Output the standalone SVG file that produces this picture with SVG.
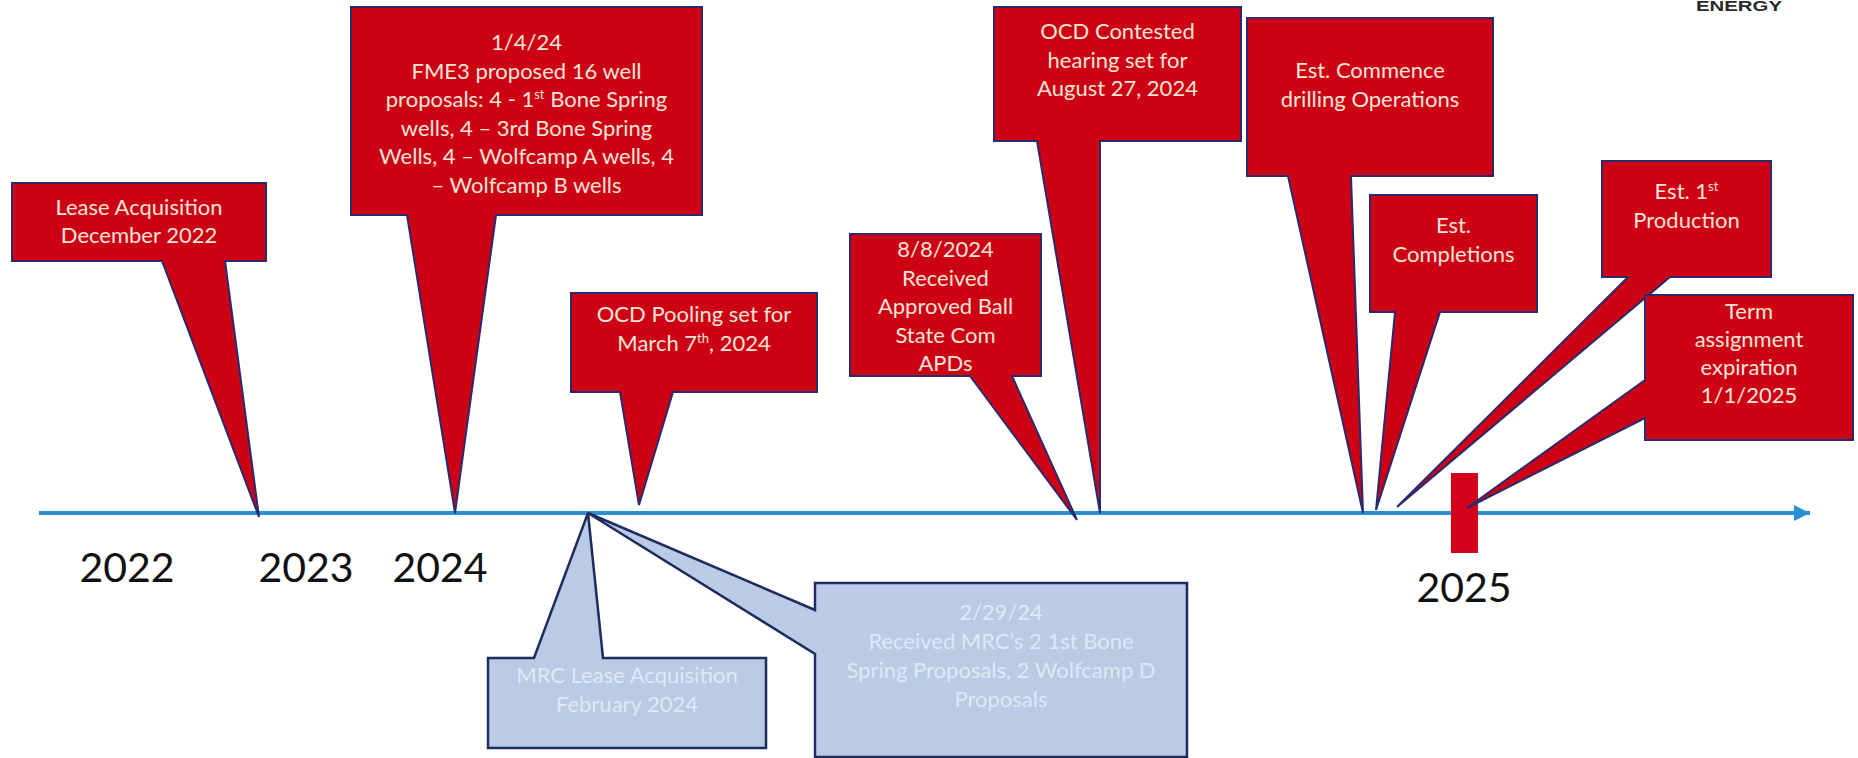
<svg xmlns="http://www.w3.org/2000/svg" width="1858" height="758" viewBox="0 0 1858 758">
<defs>
<style>
.red{fill:#cc0214;stroke:#2b2a6e;stroke-width:2;stroke-linejoin:miter}
.blue{fill:#b9cbe5;stroke:#1f2d5e;stroke-width:2.5;stroke-linejoin:miter}
.rt{font-family:Lato,"Liberation Sans",sans-serif;font-size:22px;fill:#f6e4d8;text-anchor:middle}
.bt{font-family:Lato,"Liberation Sans",sans-serif;font-size:22px;fill:#dfe8f4;text-anchor:middle}
.yr{font-family:Lato,"Liberation Sans",sans-serif;font-size:41px;fill:#111;text-anchor:middle}
.sup{font-size:13px}
</style>
<marker id="arrow" viewBox="0 0 10 10" refX="10" refY="5" markerWidth="4.5" markerHeight="4" markerUnits="strokeWidth" orient="auto">
<path d="M0,0 L10,5 L0,10 Z" fill="#2b8fd6"/>
</marker>
</defs>
<rect width="1858" height="758" fill="#ffffff"/>

<text x="1696" y="11" font-family="'Liberation Sans',Arial,sans-serif" font-weight="bold" font-size="15" fill="#2a2a2a" textLength="86" lengthAdjust="spacingAndGlyphs">ENERGY</text>

<g id="connectors">
<line x1="39" y1="513" x2="1810" y2="513" stroke="#2b8fd6" stroke-width="4" marker-end="url(#arrow)"/>
</g>

<g id="marker-2025">
<rect x="1451" y="473" width="27" height="80" fill="#d4001a"/>
</g>

<g id="years">
<text class="yr" x="127" y="582">2022</text>
<text class="yr" x="306" y="582">2023</text>
<text class="yr" x="440" y="582">2024</text>
<text class="yr" x="1464" y="602">2025</text>
</g>

<g id="lease-acquisition">
<path class="red" d="M12,183 H266 V261 H225 L259,517 L162,261 H12 Z"/>
<text class="rt" x="139" y="215">Lease Acquisition</text>
<text class="rt" x="139" y="243">December 2022</text>
</g>

<g id="fme3-proposals">
<path class="red" d="M351,7 H702 V215 H496 L455,513 L407,215 H351 Z"/>
<text class="rt" x="526.5" y="50">1/4/24</text>
<text class="rt" x="526.5" y="78.5">FME3 proposed 16 well</text>
<text class="rt" x="526.5" y="107">proposals: 4 - 1<tspan class="sup" baseline-shift="super">st</tspan> Bone Spring</text>
<text class="rt" x="526.5" y="135.5">wells, 4 – 3rd Bone Spring</text>
<text class="rt" x="526.5" y="164">Wells, 4 – Wolfcamp A wells, 4</text>
<text class="rt" x="526.5" y="192.5">– Wolfcamp B wells</text>
</g>

<g id="ocd-pooling">
<path class="red" d="M571,293 H817 V392 H673 L639,505 L620,392 H571 Z"/>
<text class="rt" x="694" y="322">OCD Pooling set for</text>
<text class="rt" x="694" y="351">March 7<tspan class="sup" baseline-shift="super">th</tspan>, 2024</text>
</g>

<g id="approved-apds">
<path class="red" d="M850,234 H1041 V376 H1012 L1077,520 L970,376 H850 Z"/>
<text class="rt" x="945.5" y="257">8/8/2024</text>
<text class="rt" x="945.5" y="285.5">Received</text>
<text class="rt" x="945.5" y="314">Approved Ball</text>
<text class="rt" x="945.5" y="342.5">State Com</text>
<text class="rt" x="945.5" y="371">APDs</text>
</g>

<g id="ocd-contested">
<path class="red" d="M994,7 H1241 V141 H1100 L1100,513 L1037,141 H994 Z"/>
<text class="rt" x="1117.5" y="39">OCD Contested</text>
<text class="rt" x="1117.5" y="67.5">hearing set for</text>
<text class="rt" x="1117.5" y="96">August 27, 2024</text>
</g>

<g id="est-commence">
<path class="red" d="M1247,18 H1493 V176 H1351 L1363,513 L1288,176 H1247 Z"/>
<text class="rt" x="1370" y="78">Est. Commence</text>
<text class="rt" x="1370" y="106.5">drilling Operations</text>
</g>

<g id="est-completions">
<path class="red" d="M1370,195 H1537 V312 H1440 L1376,510 L1395,312 H1370 Z"/>
<text class="rt" x="1453.5" y="233">Est.</text>
<text class="rt" x="1453.5" y="262">Completions</text>
</g>

<g id="est-production">
<path class="red" d="M1602,161 H1771 V277 H1670 L1397,507 L1628,277 H1602 Z"/>
<text class="rt" x="1686.5" y="199">Est. 1<tspan class="sup" baseline-shift="super">st</tspan></text>
<text class="rt" x="1686.5" y="228">Production</text>
</g>

<g id="term-expiration">
<path class="red" d="M1645,295 H1853 V440 H1645 V418 L1467,508 L1645,380 Z"/>
<text class="rt" x="1749" y="319">Term</text>
<text class="rt" x="1749" y="347">assignment</text>
<text class="rt" x="1749" y="375">expiration</text>
<text class="rt" x="1749" y="403">1/1/2025</text>
</g>

<g id="mrc-lease">
<path class="blue" d="M488,658 H534 L588,513 L603,658 H766 V748 H488 Z"/>
<text class="bt" x="627" y="683">MRC Lease Acquisition</text>
<text class="bt" x="627" y="712">February 2024</text>
</g>

<g id="mrc-proposals">
<path class="blue" d="M815,583 H1187 V757 H815 V654 L588,513 L815,610 Z"/>
<text class="bt" x="1001" y="620">2/29/24</text>
<text class="bt" x="1001" y="649">Received MRC’s 2 1st Bone</text>
<text class="bt" x="1001" y="678">Spring Proposals, 2 Wolfcamp D</text>
<text class="bt" x="1001" y="707">Proposals</text>
</g>
</svg>
